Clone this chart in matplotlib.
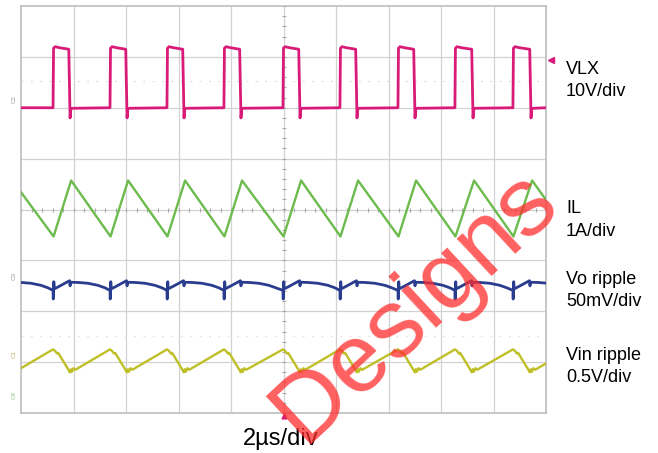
import numpy as np
import matplotlib.pyplot as plt

plt.rcParams['font.family'] = ['Liberation Sans', 'DejaVu Sans']

# ---- readings off the scope shot (time in us) ----
t_div_us = 2.0
n_xdiv = 10
n_ydiv = 8

# VLX, 10 V/div, ground marker 2 div above centre
vlx_scale = 10.0
vlx_offset = 2.0
vlx_rise_us = [1.22, 3.39, 5.56, 7.73, 9.98, 12.15, 14.36, 16.53, 18.74]
vlx_fall_us = [1.87, 4.04, 6.21, 8.38, 10.63, 12.80, 15.01, 17.22, 19.43]
vlx_low_v = 0.0
vlx_high_v = 11.5
vlx_overshoot_v = 12.0
vlx_undershoot_v = -2.0

# IL, 1 A/div, ground marker near the bottom
il_scale = 1.0
il_offset = -3.83
il_peak_a = 4.40
il_valley_a = 3.30
il_start_a = 4.17
il_end_a = 4.02

# Vo ripple, 50 mV/div, shape of one switching period (dt from VLX rise, mV)
vo_scale = 50.0
vo_offset = -1.5
vo_dt = [0.00, 0.01, 0.03, 0.05, 0.20, 0.45, 0.63, 0.65, 0.67, 0.95, 1.33, 1.71, 1.98]
vo_mv = [-4.5, -13.0, 4.0, -3.0, -1.0, 2.5, 5.0, 0.0, 3.5, 3.3, 2.5, 0.5, -2.0]

# Vin ripple, 0.5 V/div, shape of one switching period (dt from VLX rise, V)
vin_scale = 0.5
vin_offset = -3.0
vin_dt = [0.00, 0.08, 0.15, 0.20, 0.60, 0.64, 0.68, 0.72, 0.78, 0.85]
vin_v = [0.125, 0.11, 0.085, 0.09, -0.08, -0.10, -0.07, -0.095, -0.06, -0.075]

labels = [('VLX', '10V/div', 74), ('IL', '1A/div', 213),
          ('Vo ripple', '50mV/div', 284), ('Vin ripple', '0.5V/div', 360)]
time_label = '2\u00b5s/div'
watermark = 'Designs'

c_vlx = '#d81b78'
c_il = '#6cbb4c'
c_vo = '#2a3c8e'
c_vin = '#bfbf28'
c_grid = '#d2d2d2'

W, H = 658, 453
fig = plt.figure(figsize=(W / 100, H / 100), dpi=100)
fig.patch.set_facecolor('white')
ax = fig.add_axes([21 / W, 1 - 413 / H, 525 / W, 407 / H])
xmax = t_div_us * n_xdiv
ax.set_xlim(0, xmax)
ax.set_ylim(-n_ydiv / 2, n_ydiv / 2)
ax.set_xticks([])
ax.set_yticks([])
for s in ax.spines.values():
    s.set_color('#bdbdbd')
    s.set_linewidth(1.2)

# graticule
for i in range(1, n_xdiv):
    ax.axvline(i * t_div_us, color=c_grid, lw=0.9, zorder=1)
for j in range(1, n_ydiv):
    ax.axhline(j - n_ydiv / 2, color=c_grid, lw=0.9, zorder=1)
ax.axhline(2.53, color='#dcdcdc', lw=0.9, ls=(0, (1.5, 6)), zorder=1)
ax.axhline(-2.48, color='#e2e2e2', lw=0.9, ls=(0, (1.5, 6)), zorder=1)
# centre line ticks
ticks_x = np.arange(0, xmax + 0.01, t_div_us / 5)
ax.plot(ticks_x, np.zeros_like(ticks_x), '|', color='#a8a8a8', ms=3, mew=0.8, zorder=1)
ticks_y = np.arange(-n_ydiv / 2, n_ydiv / 2 + 0.01, 0.2)
ax.plot(np.full_like(ticks_y, xmax / 2), ticks_y, '_', color='#a8a8a8', ms=3, mew=0.8, zorder=1)

# VLX
t, v = [0.0], [vlx_low_v]
for tr, tf in zip(vlx_rise_us, vlx_fall_us):
    t += [tr, tr + 0.02, tr + 0.08, tr + 0.25, tf - 0.05, tf, tf + 0.03, tf + 0.10]
    v += [vlx_low_v, vlx_high_v + 0.2, vlx_overshoot_v, vlx_high_v + 0.3, vlx_high_v,
          vlx_undershoot_v, vlx_low_v - 0.2, vlx_low_v - 0.1]
t.append(xmax)
v.append(vlx_low_v)
ax.plot(t, np.array(v) / vlx_scale + vlx_offset, color=c_vlx, lw=2.0, zorder=3)

# IL
t, a = [0.0], [il_start_a]
for tr, tf in zip(vlx_rise_us, vlx_fall_us):
    t += [tr + 0.02, tf + 0.04]
    a += [il_valley_a, il_peak_a]
t.append(xmax)
a.append(il_end_a)
ax.plot(t, np.array(a) / il_scale + il_offset, color=c_il, lw=1.7, zorder=3)

# Vo and Vin ripple, one period profile per switching cycle
period = vlx_rise_us[1] - vlx_rise_us[0]
starts = [vlx_rise_us[0] - period] + vlx_rise_us + [vlx_rise_us[-1] + period]
t_vo, y_vo, t_vin, y_vin = [], [], [], []
for tr in starts:
    t_vo += [tr + d for d in vo_dt]
    y_vo += vo_mv
    t_vin += [tr + d for d in vin_dt]
    y_vin += vin_v
ax.plot(t_vo, np.array(y_vo) / vo_scale + vo_offset, color=c_vo, lw=2.0, zorder=3)
ax.plot(t_vin, np.array(y_vin) / vin_scale + vin_offset, color=c_vin, lw=1.7, zorder=3)

# channel markers on the left, trigger markers
for name, ypos, col in [('C2', vlx_offset + 0.1, '#9a9a9a'), ('C3', -1.38, '#9a9a9a'),
                        ('C1', -2.92, '#b5b560'), ('C4', il_offset + 0.1, '#8fbf80')]:
    ax.text(-0.27, ypos, name, rotation=90, fontsize=4.5, color=col,
            ha='center', va='bottom', clip_on=False)
ax.plot([20.2], [2.93], marker='<', color=c_vlx, ms=4, clip_on=False, zorder=4)
ax.plot([10.0], [-4.05], marker='^', color=c_vlx, ms=3.5, clip_on=False, zorder=4)

# right side labels
for top, bottom, base in labels:
    fig.text(566 / W, 1 - base / H, top, fontsize=13, va='baseline', ha='left')
    fig.text(566 / W, 1 - (base + 22.5) / H, bottom, fontsize=13, va='baseline', ha='left')
fig.text(243 / W, 1 - 445 / H, time_label, fontsize=17, va='baseline', ha='left')

# watermark
fig.text(303 / W, 1 - 444 / H, watermark, fontsize=70, rotation=43,
         color='#ff2b2b', alpha=0.75, ha='left', va='baseline',
         rotation_mode='anchor', zorder=10)

fig.savefig('out.png', dpi=100)
